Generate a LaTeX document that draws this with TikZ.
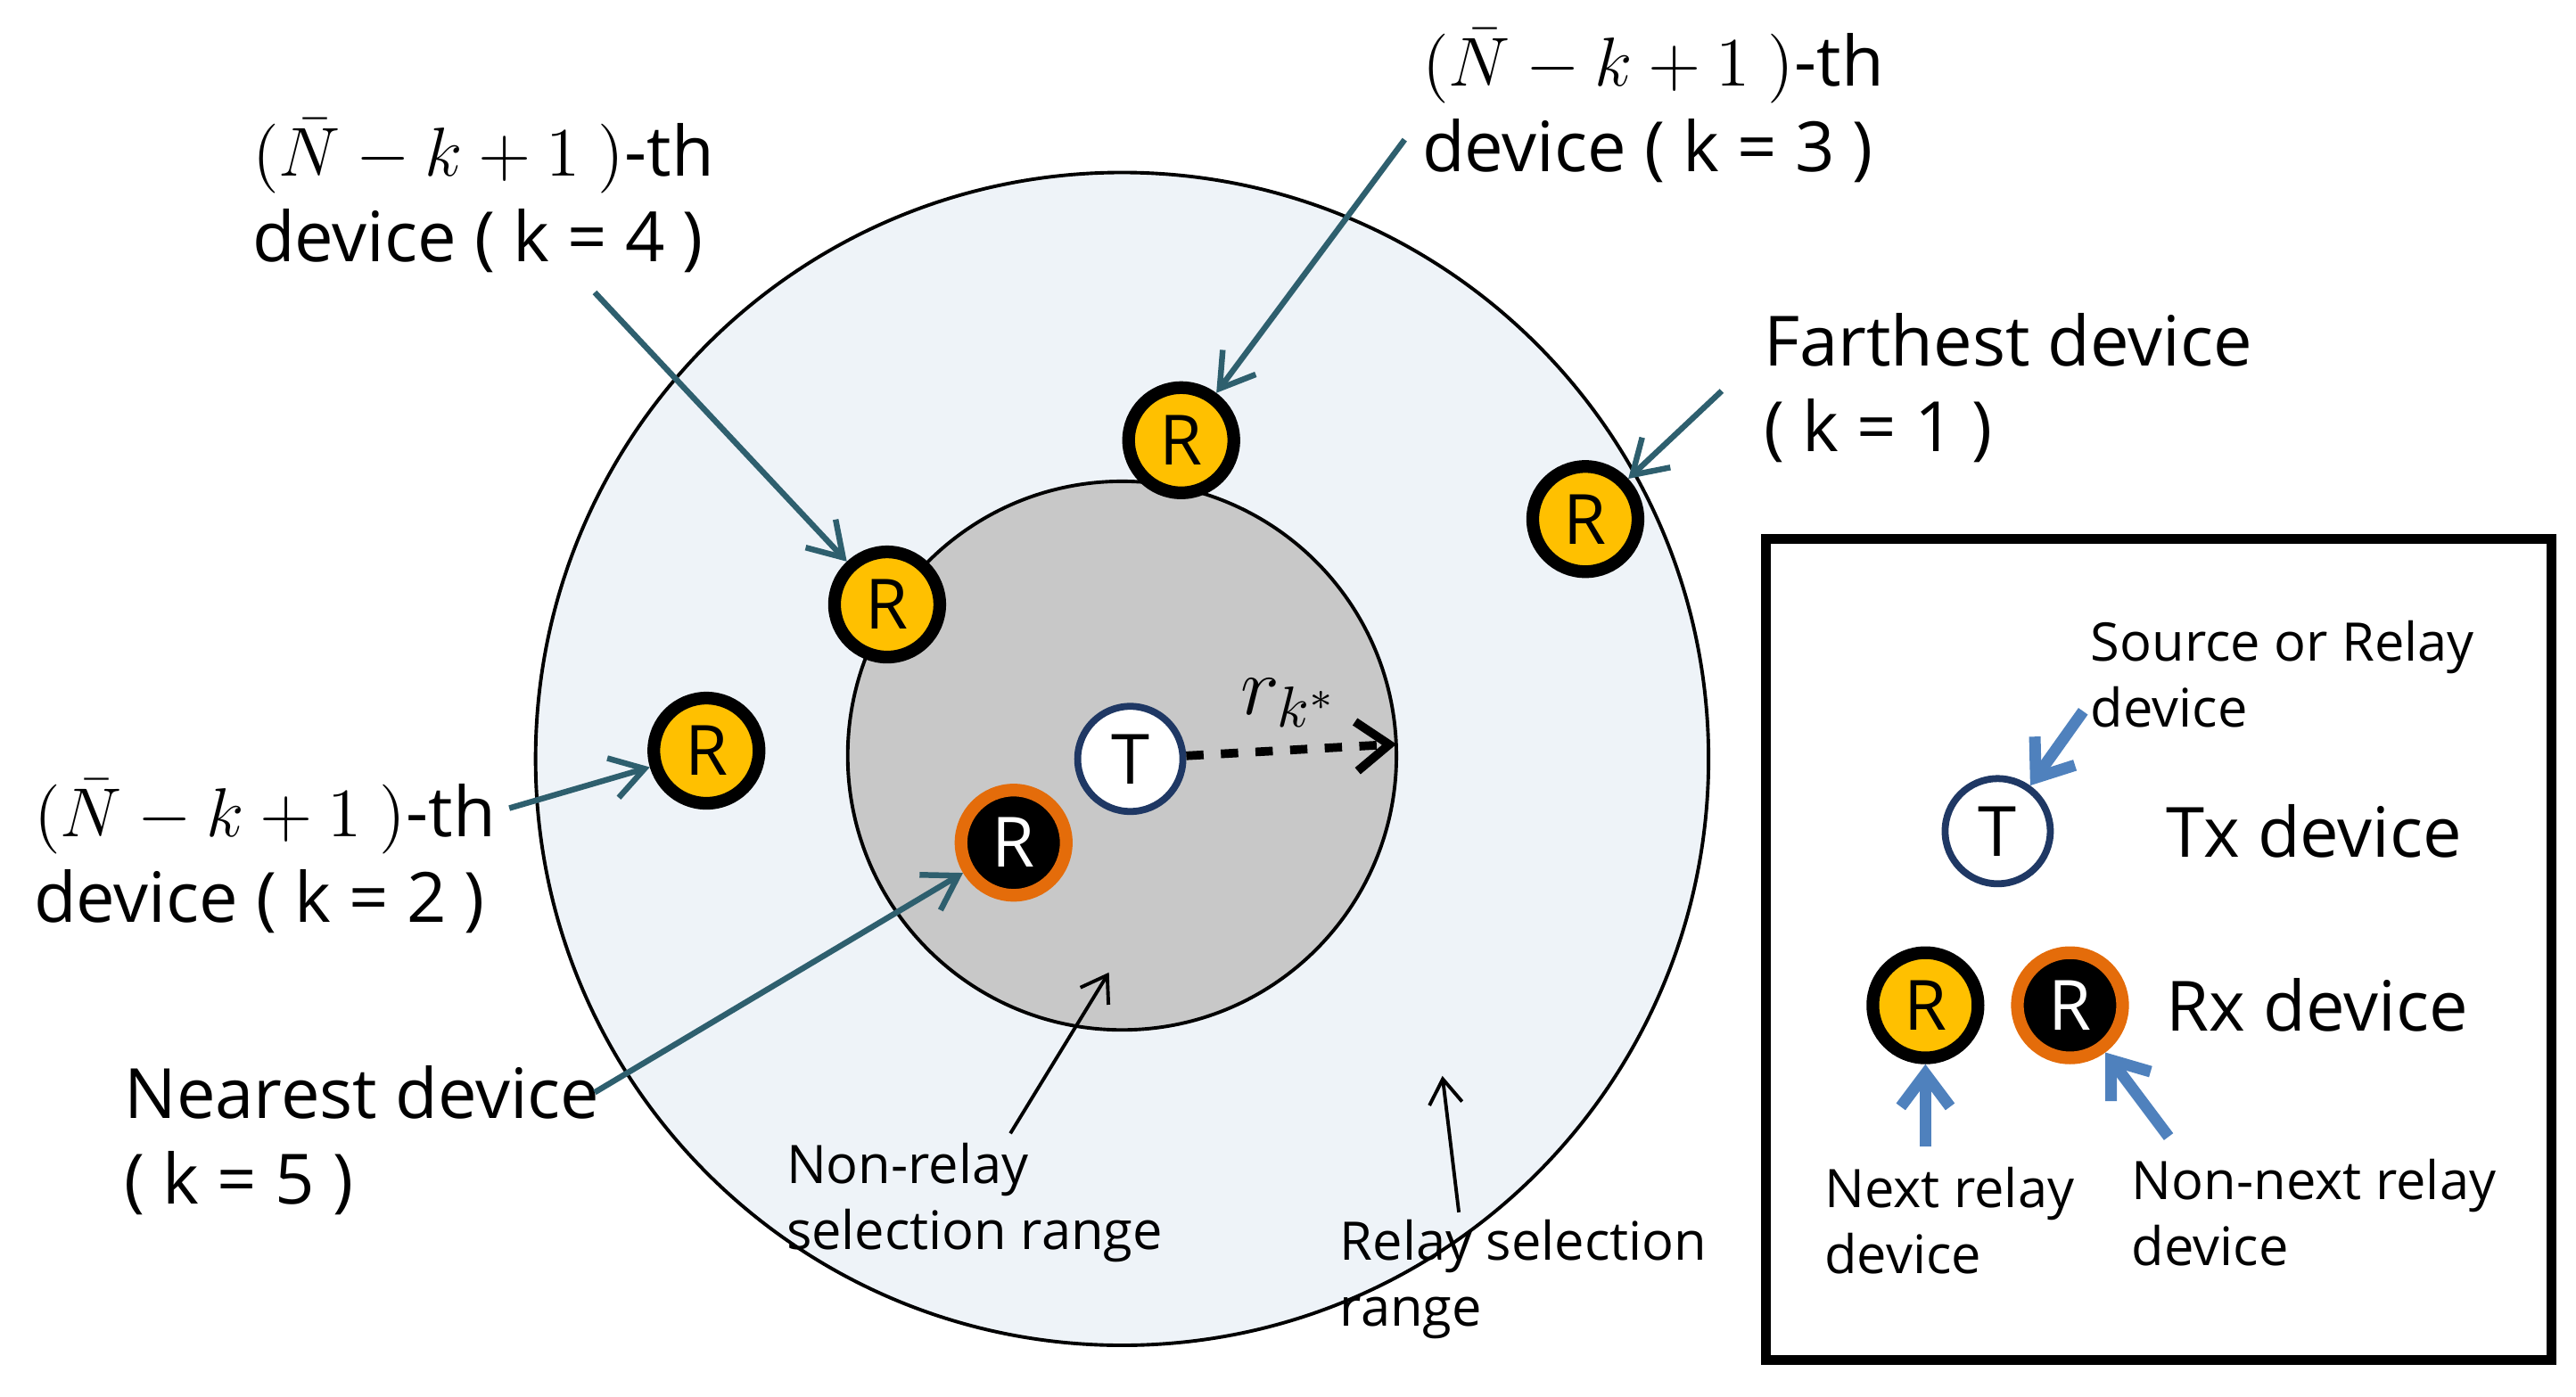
\documentclass[tikz,border=0pt]{standalone}
\usepackage{fontspec}
\setmainfont{Open Sans}
\usetikzlibrary{arrows.meta}
\definecolor{ringblue}{HTML}{EEF3F8}
\definecolor{innergray}{HTML}{C8C8C8}
\definecolor{relayyellow}{HTML}{FFC000}
\definecolor{rxorange}{HTML}{E46C0A}
\definecolor{txnavy}{HTML}{1F3864}
\definecolor{tealarrow}{HTML}{2E5F6E}
\definecolor{legendblue}{HTML}{4F81BD}
\tikzset{
  relay/.style = {circle, draw = black, line width = 2.2pt, fill = relayyellow, minimum size = 0.64cm, inner sep = 0, font = \fontsize{12}{12}\selectfont},
  other/.style = {circle, draw = rxorange, line width = 2.2pt, fill = black, text = white, minimum size = 0.64cm, inner sep = 0, font = \fontsize{12}{12}\selectfont},
  tx/.style = {circle, draw = txnavy, line width = 1.2pt, fill = white, minimum size = 0.64cm, inner sep = 0, font = \fontsize{12}{12}\selectfont},
  biglabel/.style = {anchor = north west, align = left, inner sep = 0, font = \fontsize{12}{14.8}\selectfont},
  smalllabel/.style = {anchor = north west, align = left, inner sep = 0, font = \fontsize{9.2}{11.4}\selectfont},
  pointer/.style = {draw = tealarrow, line width = 1pt, -{Straight Barb[length = 2mm, width = 2.5mm]}},
  legendpointer/.style = {draw = legendblue, line width = 2pt, -{Straight Barb[length = 2mm, width = 3mm]}},
  thinpointer/.style = {draw = black, line width = 0.6pt, -{Straight Barb[length = 1.5mm, width = 2mm]}}
}
\begin{document}
\begin{tikzpicture}[x = 0.01cm, y = -0.01cm]
\useasboundingbox (0, 0) rectangle (1568, 850);

% selection ranges
\draw [fill = ringblue, line width = 0.6pt] (683, 462) circle (357);
\draw [fill = innergray, line width = 0.6pt] (683, 460) circle (167);

% devices
\node [tx] (t) at (688, 462) {T};
\node [other] (near) at (617, 513) {R};
\node [relay] (k4) at (540, 368) {R};
\node [relay] (k3) at (719, 268) {R};
\node [relay] (k1) at (965, 316) {R};
\node [relay] (k2) at (430, 457) {R};
\coordinate (edge) at (850, 453);
\draw [dashed, line width = 1.5pt, -{Straight Barb[length = 2mm, width = 3mm]}] (t) -- (edge);
\node [font = \fontsize{14}{14}\selectfont] (rk) at (785, 428) {$r_{k^*}$};

% labels around the ring
\node [biglabel] (l4) at (153, 72) {$(\bar{N}-k+1\ )$-th\\device ( k = 4 )};
\node [biglabel] (l3) at (865, 17) {$(\bar{N}-k+1\ )$-th\\device ( k = 3 )};
\node [biglabel] (l1) at (1073, 190) {Farthest device\\( k = 1 )};
\node [biglabel] (l2) at (20, 474) {$(\bar{N}-k+1\ )$-th\\device ( k = 2 )};
\node [biglabel] (l5) at (75, 648) {Nearest device\\( k = 5 )};
\coordinate (p4) at (362, 178);
\coordinate (p3) at (855, 85);
\coordinate (p1) at (1048, 238);
\coordinate (p2) at (310, 492);
\coordinate (p5) at (362, 665);
\draw [pointer] (p4) -- (k4);
\draw [pointer] (p3) -- (k3);
\draw [pointer] (p1) -- (k1);
\draw [pointer] (p2) -- (k2);
\draw [pointer] (p5) -- (near);

\node [smalllabel] (nonrelay) at (478, 695) {Non-relay\\selection range};
\node [smalllabel] (relayrange) at (815, 742) {Relay selection\\range};
\coordinate (a1) at (615, 690);
\coordinate (b1) at (675, 592);
\coordinate (a2) at (888, 738);
\coordinate (b2) at (878, 655);
\draw [thinpointer] (a1) -- (b1);
\draw [thinpointer] (a2) -- (b2);

% legend
\draw [line width = 1.8pt] (1075, 328) rectangle (1553, 828);
\node [tx] (lt) at (1216, 506) {T};
\node [relay] (lr) at (1172, 612) {R};
\node [other] (lo) at (1260, 612) {R};
\node [biglabel, anchor = west] (txtext) at (1318, 506) {Tx device};
\node [biglabel, anchor = west] (rxtext) at (1318, 612) {Rx device};
\node [smalllabel] (srctext) at (1272, 377) {Source or Relay\\device};
\node [smalllabel] (nexttext) at (1110, 710) {Next relay\\device};
\node [smalllabel] (nonnext) at (1297, 705) {Non-next relay\\device};
\coordinate (s1) at (1268, 433);
\coordinate (s2) at (1172, 698);
\coordinate (s3) at (1320, 692);
\draw [legendpointer] (s1) -- (lt);
\draw [legendpointer] (s2) -- (lr);
\draw [legendpointer] (s3) -- (lo);
\end{tikzpicture}
\end{document}
